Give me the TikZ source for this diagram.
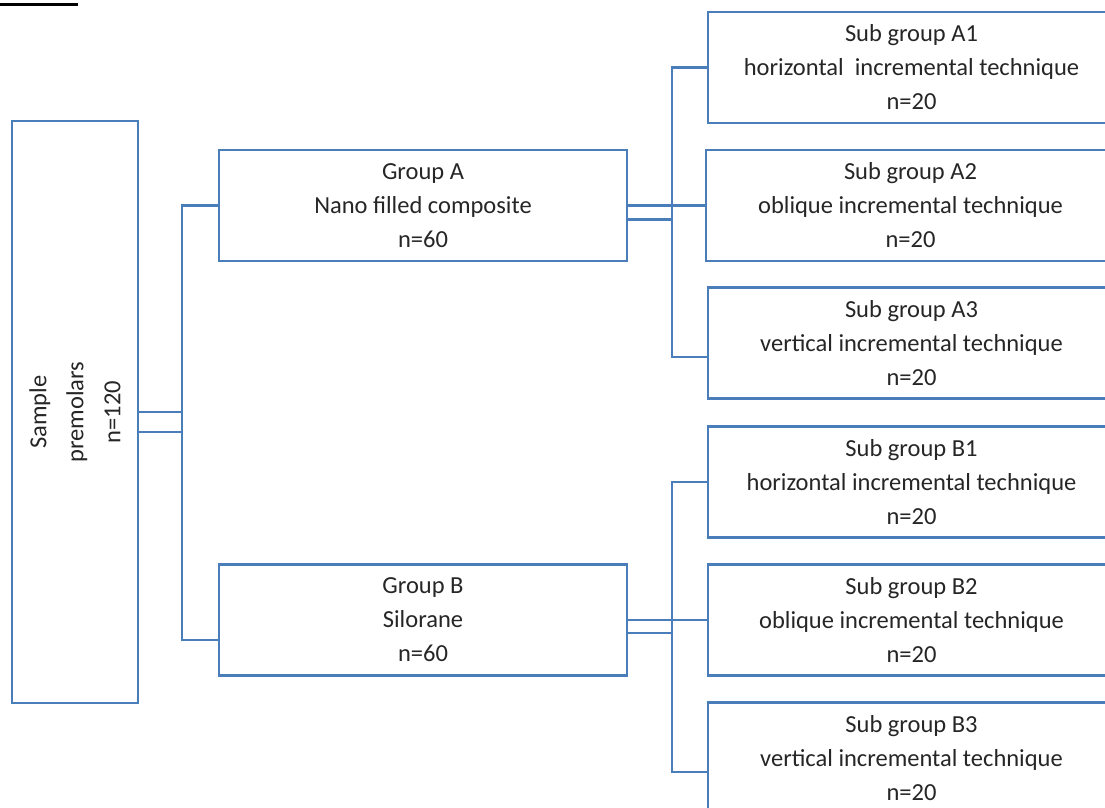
\documentclass[tikz,border=0pt]{standalone}
\usepackage{fontspec}
\setmainfont{Carlito}
\definecolor{lineblue}{HTML}{4A7EBB}
\definecolor{txtgray}{HTML}{262626}
\begin{document}
\begin{tikzpicture}[x=1pt,y=-1pt,
  box/.style={draw=lineblue,line width=2.2pt,rectangle,inner sep=0pt,minimum height=111pt,
    text=txtgray,align=center,font=\fontsize{24.5}{34}\selectfont},
  conn/.style={draw=lineblue,line width=2.2pt},
  txt/.style={text=txtgray,align=center,font=\fontsize{24.5}{37}\selectfont,inner sep=0pt}]
\useasboundingbox (0,0) rectangle (1105,807);
\clip (0,0) rectangle (1105,807);
\fill[white] (0,0) rectangle (1105,807);
\fill[black] (0,2.5) rectangle (78,6);
% sample
\node[box,minimum width=126pt,minimum height=582pt] (sample) at (75,412) {};
\node[txt,rotate=90] (sampletxt) at (sample.center) {Sample\\premolars\\n=120};
% groups
\node[box,minimum width=408pt] (gA) at (423,205.5) {Group A\\Nano filled composite\\n=60};
\node[box,minimum width=408pt] (gB) at (423,620) {Group B\\Silorane\\n=60};
% sub groups
\node[box,minimum width=407pt] (a1) at (911.5,67.5) {Sub group A1\\horizontal\ \ incremental technique\\n=20};
\node[box,minimum width=409pt] (a2) at (910.5,205.5) {Sub group A2\\oblique incremental technique\\n=20};
\node[box,minimum width=407pt] (a3) at (911.5,343) {Sub group A3\\vertical incremental technique\\n=20};
\node[box,minimum width=407pt] (b1) at (911.5,482) {Sub group B1\\horizontal incremental technique\\n=20};
\node[box,minimum width=407pt] (b2) at (911.5,620) {Sub group B2\\oblique incremental technique\\n=20};
\node[box,minimum width=407pt] (b3) at (911.5,758) {Sub group B3\\vertical incremental technique\\n=20};
% junctions
\coordinate (j1) at (182,412);
\coordinate (j1b) at (182,432);
\coordinate (k1) at (672,205.5);
\coordinate (k1b) at (672,219.5);
\coordinate (k2) at (672,620);
\coordinate (k2b) at (672,633);
% sample to groups
\draw[conn] (sample.east |- j1) -- (j1);
\draw[conn] (sample.east |- j1b) -- (j1b);
\draw[conn] (gA.west) -| (j1) -- (j1b);
\draw[conn] (gB.west |- 0,640) -| (j1b);
% group A to sub groups
\draw[conn] (gA.east |- k1) -- (k1);
\draw[conn] (gA.east |- k1b) -- (k1b);
\draw[conn] (a1.west) -| (k1) -- (k1b);
\draw[conn] (k1) -- (a2.west);
\draw[conn] (a3.west |- 0,357) -| (k1b);
% group B to sub groups
\draw[conn] (gB.east |- k2) -- (k2);
\draw[conn] (gB.east |- k2b) -- (k2b);
\draw[conn] (b1.west) -| (k2) -- (k2b);
\draw[conn] (k2) -- (b2.west);
\draw[conn] (b3.west |- 0,772) -| (k2b);
\end{tikzpicture}
\end{document}
